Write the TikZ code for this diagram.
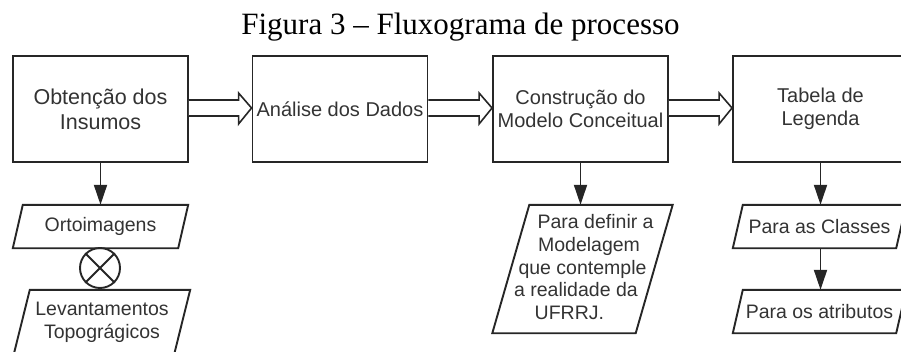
\documentclass[tikz,border=0pt]{standalone}
\usepackage{fontspec}
\setmainfont{Liberation Serif}
\setsansfont{Liberation Sans}
\usetikzlibrary{arrows.meta,calc}

\tikzset{
  procbox/.style={draw=black!85, line width=1.9pt, minimum width=175pt,
                  minimum height=106pt, inner sep=0pt, align=center,
                  text=black!80, font=\sffamily\fontsize{20}{23}\selectfont},
  iobox/.style={inner sep=0pt, align=center, text=black!80,
                font=\sffamily\fontsize{19.5}{23}\selectfont},
  ioline/.style={draw=black!85, line width=1.9pt, line join=miter},
  flow/.style={draw=black!85, line width=1.9pt,
               -{Triangle[length=20pt,width=13pt]}},
  hollow/.style={draw=black!85, line width=1.6pt, fill=white}
}
% contorno inclinado de um no (nome, meia inclinacao)
\newcommand{\iodraw}[2]{%
  \draw[ioline] ([xshift=-#2]#1.south west) -- ([xshift=#2]#1.north west)
      -- ([xshift=#2]#1.north east) -- ([xshift=-#2]#1.south east) -- cycle;}

\begin{document}
\begin{tikzpicture}[x=1pt, y=1pt]
  \useasboundingbox (0,0) rectangle (901,351);
  \clip (0,0) rectangle (901,351);

  \node[font=\fontsize{31}{36}\selectfont, anchor=base] (title) at (460.5,316)
       {Figura 3 – Fluxograma de processo};

  % etapas
  \node[procbox, font=\sffamily\fontsize{21.5}{25}\selectfont] (B1) at (100.5,242)
       {Obtenção dos\\Insumos};
  \node[procbox] (B2) at (340,242) {Análise dos Dados};
  \node[procbox] (B3) at (580.5,242) {Construção do\\Modelo Conceitual};
  \node[procbox] (B4) at (820.5,242) {Tabela de\\Legenda};

  \foreach \a/\b in {B1/B2, B2/B3, B3/B4} {
      \filldraw[hollow] ([yshift=9pt]\a.east)
          -- ([xshift=-13pt, yshift=9pt]\b.west)
          -- ([xshift=-13pt, yshift=16pt]\b.west)
          -- ([yshift=1pt]\b.west)
          -- ([xshift=-13pt, yshift=-15pt]\b.west)
          -- ([xshift=-13pt, yshift=-7pt]\b.west)
          -- ([yshift=-7pt]\a.east);
  }

  % entradas e saidas
  \node[iobox, minimum width=165pt, minimum height=43pt] (P1) at (100.5,124.5)
       {Ortoimagens};
  \iodraw{P1}{5pt}
  \node[draw=black!85, line width=1.9pt, circle, minimum size=40pt, inner sep=0pt]
       (J) at (100,83) {};
  \draw[draw=black!85, line width=1.9pt] (J.north west) -- (J.south east)
                                         (J.north east) -- (J.south west);
  \node[iobox, minimum width=160pt, minimum height=64pt] (P2) at (102,29)
       {Levantamentos\\Topográgicos};
  \iodraw{P2}{8pt}

  \node[iobox, minimum width=143pt, minimum height=128pt] (P3) at (582.5,82) {};
  \iodraw{P3}{18.5pt}
  \foreach \txt [count=\k] in {Para definir a, Modelagem, que contemple,
                               a realidade da, UFRRJ.} {
      \node[iobox, text height=14pt, text depth=4pt] (T\k)
           at ($(P3.center)+({(3-\k)*22.7*0.289},{(3-\k)*22.7})$) {\txt};
  }

  \node[iobox, minimum width=163pt, minimum height=43pt] (P4) at (819.5,124.5)
       {Para as Classes};
  \iodraw{P4}{5pt}
  \node[iobox, minimum width=163pt, minimum height=43pt] (P5) at (819.5,39.5)
       {Para os atributos};
  \iodraw{P5}{5pt}

  \draw[flow] (B1.south) -- (B1.south |- P1.north);
  \draw[flow] (B3.south) -- (B3.south |- P3.north);
  \draw[flow] (B4.south) -- (B4.south |- P4.north);
  \draw[flow] (B4.south |- P4.south) -- (B4.south |- P5.north);
\end{tikzpicture}
\end{document}
